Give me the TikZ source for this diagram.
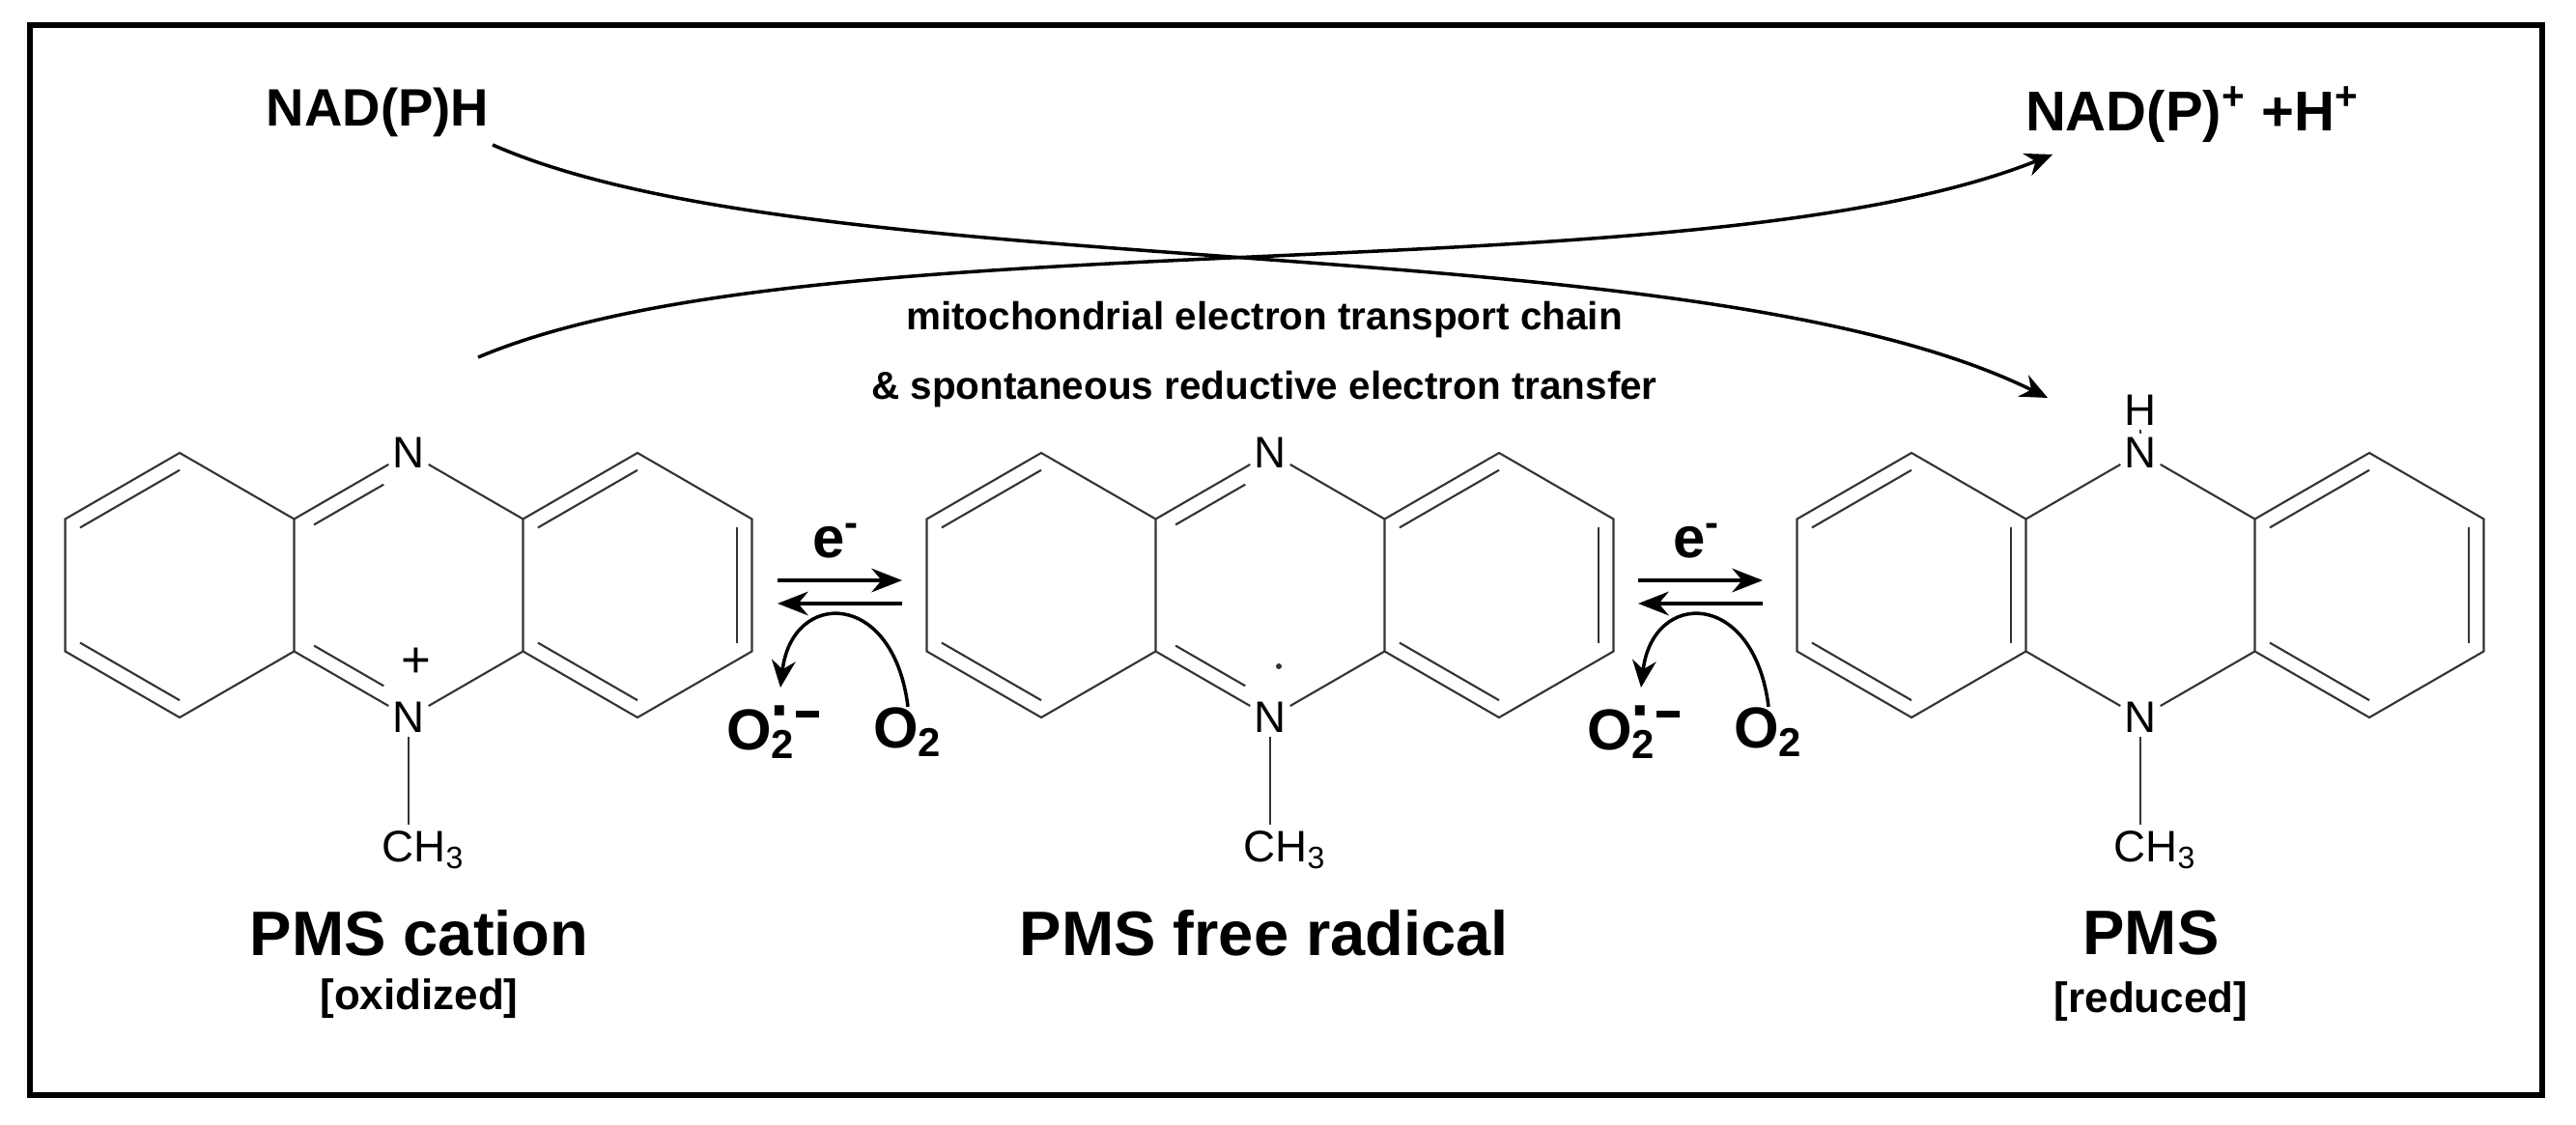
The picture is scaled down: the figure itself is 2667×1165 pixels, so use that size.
\documentclass[tikz,border=0pt]{standalone}
\usepackage{fontspec}
\setmainfont{Liberation Sans}
\usetikzlibrary{calc,arrows.meta}

\tikzset{
  bond/.style={draw=black!80, line width=0.6pt},
  atom/.style={inner sep=1pt, font=\fontsize{13}{14}\selectfont},
  rxn/.style={line width=1pt, -{Stealth[length=8pt,width=7pt]}},
  big/.style={font=\bfseries\fontsize{18.5}{20}\selectfont},
  mid/.style={font=\bfseries\fontsize{12.5}{14}\selectfont},
  oxy/.style={inner sep=0pt, font=\bfseries\fontsize{17}{19}\selectfont},
  small/.style={font=\bfseries\fontsize{11.5}{13}\selectfont},
}

% inner line of a double bond (#1,#2 ends, #3 ring centre)
\newcommand{\dbl}[3]{\draw[bond] ($(#1)!.13!(#3)$) -- ($(#2)!.13!(#3)$);}

% phenazine skeleton: prefix, centre x, centre y
\newcommand{\phz}[3]{
  \coordinate (#1L1) at (#2-355.5,#3-68.5);
  \coordinate (#1L2) at (#2-237,#3-137);
  \coordinate (#1L3) at (#2-118.5,#3-68.5);
  \coordinate (#1L4) at (#2-118.5,#3+68.5);
  \coordinate (#1L5) at (#2-237,#3+137);
  \coordinate (#1L6) at (#2-355.5,#3+68.5);
  \coordinate (#1R3) at (#2+118.5,#3-68.5);
  \coordinate (#1R2) at (#2+237,#3-137);
  \coordinate (#1R1) at (#2+355.5,#3-68.5);
  \coordinate (#1R6) at (#2+355.5,#3+68.5);
  \coordinate (#1R5) at (#2+237,#3+137);
  \coordinate (#1R4) at (#2+118.5,#3+68.5);
  \coordinate (#1cl) at (#2-237,#3);
  \coordinate (#1cc) at (#2,#3);
  \coordinate (#1cr) at (#2+237,#3);
  \node[atom] (#1nt) at (#2,#3-137) {N};
  \node[atom] (#1nb) at (#2,#3+137) {N};
  \node[atom, anchor=north west, xshift=-9pt] (#1me) at (#2,#3+250) {CH\textsubscript{3}};
  \draw[bond] (#1L3) -- (#1L2) -- (#1L1) -- (#1L6) -- (#1L5) -- (#1L4) -- cycle;
  \draw[bond] (#1R3) -- (#1R2) -- (#1R1) -- (#1R6) -- (#1R5) -- (#1R4) -- cycle;
  \draw[bond] (#1L3) -- (#1nt) -- (#1R3);
  \draw[bond] (#1L4) -- (#1nb) -- (#1R4);
  \draw[bond] (#1nb) -- (#2,#3+248);
  \dbl{#1L1}{#1L2}{#1cl}
  \dbl{#1L6}{#1L5}{#1cl}
  \dbl{#1R3}{#1R2}{#1cr}
  \dbl{#1R1}{#1R6}{#1cr}
  \dbl{#1R4}{#1R5}{#1cr}
}

% redox pair of arrows with O2 loop, x offset
\newcommand{\redox}[2]{
  \coordinate (#1a) at (#2+805,601);
  \coordinate (#1b) at (#2+934,601);
  \coordinate (#1c) at (#2+934,625);
  \coordinate (#1d) at (#2+805,625);
  \draw[line width=1.1pt, -{Stealth[length=9pt,width=7pt]}] (#1a) -- (#1b);
  \draw[line width=1.1pt, -{Stealth[length=9pt,width=7pt]}] (#1c) -- (#1d);
  \node[oxy] (#1e) at (#2+866,560) {e\textsuperscript{-}};
  \node[oxy] (#1rad) at (#2+800,758)
    {O\textsubscript{2}\llap{\raisebox{.55ex}{\fontsize{20}{20}\selectfont·}\kern.05em}\rule[1.05ex]{.4em}{2pt}};
  \node[oxy] (#1ox) at (#2+940,758) {O\textsubscript{2}};
  \draw[line width=1pt, -{Stealth[length=8pt,width=7pt]}]
    (#1ox.north) .. controls (#2+925,610) and (#2+820,610) .. (#2+808,712);
}

\begin{document}
\begin{tikzpicture}[x=0.01cm, y=-0.01cm]
\useasboundingbox (0,0) rectangle (2667,1165);
\draw[line width=1.8pt] (31,26) rectangle (2632,1134);

% molecules
\phz{a}{423}{606}
\phz{b}{1315}{606}
\phz{c}{2216}{606}
\draw[bond] ($($(aL3)!.13!(acc)$)!.05!($(ant)!.13!(acc)$)$) -- ($($(aL3)!.13!(acc)$)!.75!($(ant)!.13!(acc)$)$);
\draw[bond] ($($(aL4)!.13!(acc)$)!.05!($(anb)!.13!(acc)$)$) -- ($($(aL4)!.13!(acc)$)!.75!($(anb)!.13!(acc)$)$);
\draw[bond] ($($(bL3)!.13!(bcc)$)!.05!($(bnt)!.13!(bcc)$)$) -- ($($(bL3)!.13!(bcc)$)!.75!($(bnt)!.13!(bcc)$)$);
\draw[bond] ($($(bL4)!.13!(bcc)$)!.05!($(bnb)!.13!(bcc)$)$) -- ($($(bL4)!.13!(bcc)$)!.75!($(bnb)!.13!(bcc)$)$);
\dbl{cL3}{cL4}{ccl}
\node[atom, font=\fontsize{15}{16}\selectfont] (plus) at (431,686) {+};
\fill[black!80] (1324,690) circle (3);
\node[atom] (hyd) at (2216,425) {H};
\draw[bond] (hyd) -- (cnt);

% labels
\node[big] (catn) at (434,966) {PMS cation};
\node[mid] (catox) at (434,1034) {[oxidized]};
\node[big] (radl) at (1309,966) {PMS free radical};
\node[big] (redu) at (2227,966) {PMS};
\node[mid] (redred) at (2227,1037) {[reduced]};

% top
\node[big, font=\bfseries\fontsize{15.5}{17}\selectfont] (nadh) at (391,116) {NAD(P)H};
\node[big, font=\bfseries\fontsize{16.5}{18}\selectfont] (nadp) at (2270,119) {NAD(P)\textsuperscript{+} +H\textsuperscript{+}};
\node[small] (etc1) at (1309,331) {mitochondrial electron transport chain};
\node[small] (etc2) at (1309,403) {\& spontaneous reductive electron transfer};
\coordinate (s1) at (510,150);
\coordinate (e1) at (2120,412);
\coordinate (s2) at (495,370);
\coordinate (e2) at (2125,160);
\draw[rxn] (s1) .. controls (850,300) and (1750,230) .. (e1);
\draw[rxn] (s2) .. controls (850,220) and (1750,310) .. (e2);

\redox{p}{0}
\redox{q}{891}
\end{tikzpicture}
\end{document}
